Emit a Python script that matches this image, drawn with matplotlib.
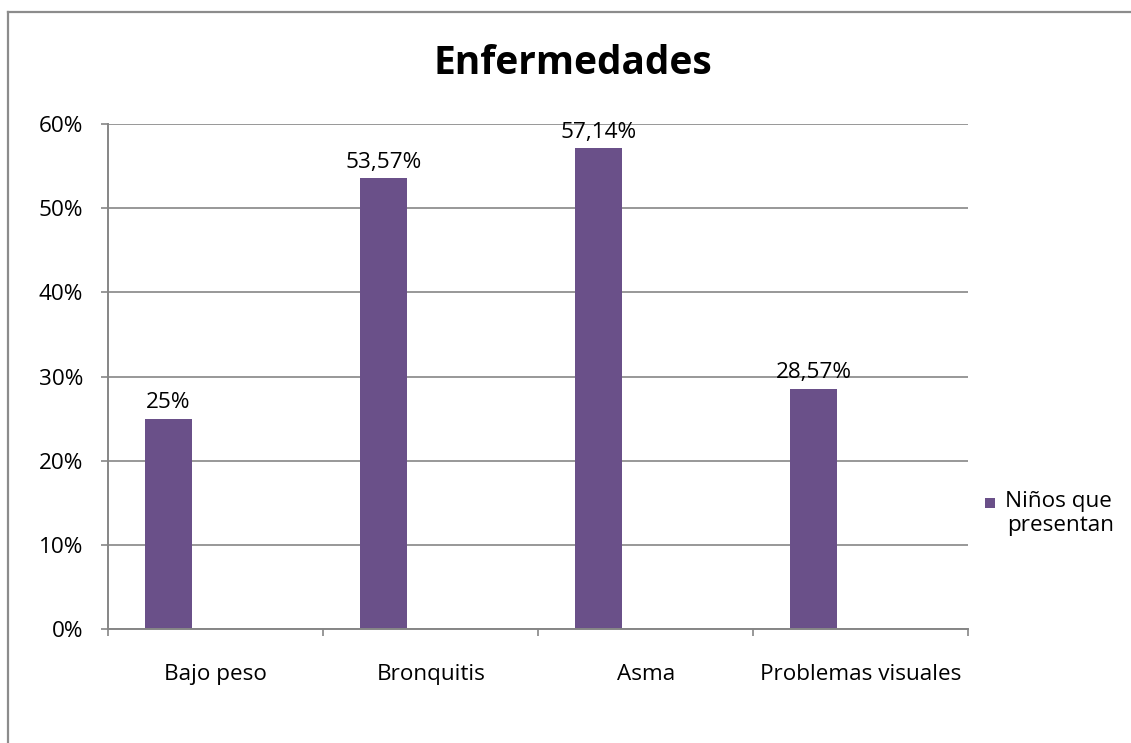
import matplotlib
matplotlib.use("Agg")
import matplotlib.pyplot as plt
from matplotlib.patches import Rectangle
from matplotlib.lines import Line2D
import numpy as np

categories = ["Bajo peso", "Bronquitis", "Asma", "Problemas visuales"]
values = [0.25, 0.5357, 0.5714, 0.2857]
value_labels = ["25%", "53,57%", "57,14%", "28,57%"]
series_lines = ["Niños que", "presentan"]
yticks = [0, 0.1, 0.2, 0.3, 0.4, 0.5, 0.6]
ytick_labels = ["0%", "10%", "20%", "30%", "40%", "50%", "60%"]

plt.rcParams['font.family'] = ['Open Sans', 'DejaVu Sans']
FS = 16.2

W, H = 1131, 743
fig = plt.figure(figsize=(W / 100, H / 100), dpi=100)
fig.patch.set_facecolor('white')

# outer chart border (top and left visible)
fig.add_artist(Line2D([8 / W, 1.2], [1 - 11.5 / H, 1 - 11.5 / H], color='#8c8c8c', lw=1.6))
fig.add_artist(Line2D([8 / W, 8 / W], [-0.2, 1 - 11.5 / H], color='#8c8c8c', lw=1.6))

ax = fig.add_axes([108.3 / W, 1 - 629.3 / H, (968.3 - 108.3) / W, (629.3 - 124) / H])
bar_color = '#6A5089'
x = np.arange(len(categories))
offset = -0.22
ax.bar(x + offset, values, width=0.22, color=bar_color, zorder=3)

for xi, v, lab in zip(x, values, value_labels):
    ax.annotate(lab, (xi + offset, v), xytext=(0, 4), textcoords='offset points',
                ha='center', va='bottom', fontsize=FS, color='#000000', zorder=4)

ax.set_xlim(-0.5, len(categories) - 0.5)
ax.set_ylim(0, 0.6)
ax.set_yticks(yticks)
ax.set_yticklabels(ytick_labels, fontsize=FS)
ax.set_xticks(x)
ax.set_xticklabels(categories, fontsize=FS)
ax.set_xticks(np.arange(len(categories) + 1) - 0.5, minor=True)
ax.tick_params(axis='x', which='major', length=0, pad=25)
ax.tick_params(axis='x', which='minor', length=5, width=1.2, color='#868686', direction='out')
ax.tick_params(axis='y', length=5, width=1.2, color='#868686', direction='out', pad=13)

ax.grid(axis='y', color='#868686', lw=1.2, zorder=0)
for s in ['top', 'right']:
    ax.spines[s].set_visible(False)
for s in ['left', 'bottom']:
    ax.spines[s].set_color('#868686')
    ax.spines[s].set_linewidth(1.4)
ax.spines['bottom'].set_zorder(5)

fig.text(573 / W, 1 - 63 / H, "Enfermedades", ha='center', va='center',
         fontsize=28, fontweight='bold', color='#000000')

# legend
fig.add_artist(Rectangle((985 / W, 1 - 508 / H), 10 / W, 10 / H, facecolor=bar_color,
                         edgecolor='none', transform=fig.transFigure))
fig.text(1005 / W, 1 - 502 / H, series_lines[0], ha='left', va='center', fontsize=FS)
fig.text(1007 / W, 1 - 526 / H, series_lines[1], ha='left', va='center', fontsize=FS)

fig.savefig("out.png", dpi=100)
